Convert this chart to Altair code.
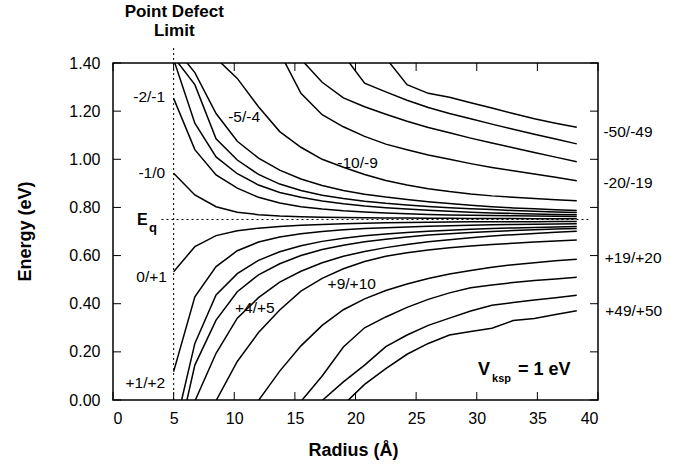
import altair as alt
import pandas as pd

# ---------------- data ----------------
radius = [5.0, 6.75, 8.5, 10.25, 12.0, 13.75, 15.5, 17.25, 19.0, 20.75,
          22.5, 24.25, 26.0, 27.75, 29.5, 31.25, 33.0, 34.75, 36.5, 38.25]

# upper family (negative charge transitions), energies in eV
m1_0 = [0.942, 0.852, 0.803, 0.780, 0.770, 0.764, 0.761, 0.759, 0.758, 0.757,
        0.756, 0.756, 0.755, 0.755, 0.754, 0.754, 0.754, 0.753, 0.753, 0.753]
m2_1 = [1.253, 1.040, 0.935, 0.880, 0.842, 0.818, 0.803, 0.793, 0.786, 0.781,
        0.777, 0.774, 0.771, 0.769, 0.767, 0.766, 0.765, 0.764, 0.763, 0.762]
m3_2 = [1.415, 1.150, 1.010, 0.940, 0.893, 0.862, 0.842, 0.827, 0.815, 0.806,
        0.799, 0.793, 0.788, 0.784, 0.780, 0.777, 0.775, 0.773, 0.771, 0.770]
m4_3 = [1.425, 1.310, 1.085, 0.997, 0.937, 0.897, 0.870, 0.851, 0.837, 0.826,
        0.817, 0.810, 0.804, 0.799, 0.795, 0.791, 0.787, 0.784, 0.781, 0.779]
m5_4 = [1.470, 1.360, 1.190, 1.075, 1.005, 0.955, 0.918, 0.891, 0.870, 0.855,
        0.843, 0.833, 0.824, 0.816, 0.809, 0.803, 0.798, 0.794, 0.790, 0.787]
m10_9 = [None, None, 1.420, 1.336, 1.218, 1.115, 1.050, 1.000, 0.967, 0.937,
         0.912, 0.893, 0.878, 0.866, 0.856, 0.848, 0.842, 0.837, 0.832, 0.828]
m20_19 = [None, None, None, None, None, 1.444, 1.274, 1.185, 1.135, 1.095,
          1.063, 1.040, 1.018, 1.000, 0.982, 0.966, 0.952, 0.939, 0.925, 0.911]
m30_29 = [None, None, None, None, None, None, 1.416, 1.320, 1.255, 1.218,
          1.187, 1.158, 1.132, 1.110, 1.088, 1.068, 1.048, 1.028, 1.009, 0.990]
m40_39 = [None, None, None, None, None, None, None, None, 1.434, 1.316,
          1.280, 1.245, 1.215, 1.190, 1.168, 1.146, 1.125, 1.104, 1.084, 1.064]
m50_49 = [None, None, None, None, None, None, None, None, None, None,
          1.421, 1.310, 1.274, 1.258, 1.235, 1.213, 1.190, 1.168, 1.150, 1.133]

# lower family (positive charge transitions)
p0_1 = [0.533, 0.637, 0.683, 0.703, 0.714, 0.721, 0.726, 0.729, 0.732, 0.734,
        0.736, 0.737, 0.738, 0.739, 0.740, 0.740, 0.741, 0.741, 0.742, 0.742]
p1_2 = [0.118, 0.429, 0.554, 0.620, 0.656, 0.677, 0.691, 0.700, 0.707, 0.712,
        0.716, 0.719, 0.722, 0.724, 0.726, 0.728, 0.729, 0.730, 0.731, 0.732]
p2_3 = [-0.142, 0.235, 0.436, 0.525, 0.580, 0.616, 0.641, 0.659, 0.672, 0.682,
        0.690, 0.696, 0.701, 0.705, 0.709, 0.712, 0.715, 0.717, 0.719, 0.721]
p3_4 = [-0.246, 0.145, 0.332, 0.450, 0.520, 0.566, 0.600, 0.625, 0.643, 0.657,
        0.668, 0.677, 0.685, 0.691, 0.696, 0.700, 0.704, 0.707, 0.710, 0.712]
p4_5 = [None, -0.005, 0.194, 0.340, 0.425, 0.490, 0.535, 0.570, 0.597, 0.617,
        0.633, 0.646, 0.657, 0.666, 0.674, 0.681, 0.687, 0.692, 0.697, 0.701]
p9_10 = [None, None, -0.003, 0.160, 0.280, 0.374, 0.452, 0.505, 0.545, 0.575,
         0.597, 0.612, 0.623, 0.632, 0.640, 0.646, 0.651, 0.656, 0.661, 0.665]
p19_20 = [None, None, None, None, -0.002, 0.120, 0.225, 0.310, 0.375, 0.420,
          0.455, 0.482, 0.505, 0.523, 0.538, 0.551, 0.562, 0.570, 0.578, 0.585]
p29_30 = [None, None, None, None, None, None, -0.006, 0.100, 0.220, 0.300,
          0.345, 0.385, 0.418, 0.445, 0.466, 0.478, 0.488, 0.496, 0.503, 0.510]
p39_40 = [None, None, None, None, None, None, None, -0.002, 0.075, 0.145,
          0.222, 0.270, 0.310, 0.340, 0.370, 0.394, 0.405, 0.415, 0.425, 0.435]
p49_50 = [None, None, None, None, None, None, None, None, -0.020, 0.065,
          0.130, 0.190, 0.235, 0.270, 0.285, 0.298, 0.330, 0.339, 0.355, 0.371]

curve_names = ["-1/0", "-2/-1", "-3/-2", "-4/-3", "-5/-4", "-10/-9", "-20/-19",
               "-30/-29", "-40/-39", "-50/-49", "0/+1", "+1/+2", "+2/+3",
               "+3/+4", "+4/+5", "+9/+10", "+19/+20", "+29/+30", "+39/+40",
               "+49/+50"]
curve_values = [m1_0, m2_1, m3_2, m4_3, m5_4, m10_9, m20_19, m30_29, m40_39,
                m50_49, p0_1, p1_2, p2_3, p3_4, p4_5, p9_10, p19_20, p29_30,
                p39_40, p49_50]

x_ticks = [0, 5, 10, 15, 20, 25, 30, 35, 40]
y_ticks = [0.0, 0.2, 0.4, 0.6, 0.8, 1.0, 1.2, 1.4]

eq_level = [0.75]
defect_limit = [5.0]

# ---------------- build tables ----------------
rows = []
for name, vals in zip(curve_names, curve_values):
    for r, e in zip(radius, vals):
        if e is not None:
            rows.append({"R": r, "E": e, "curve": name})
lines_df = pd.DataFrame(rows)

W, H = 485, 337
FONT = "Liberation Sans"
XT = "Radius (Å)"
YT = "Energy (eV)"
xs = alt.Scale(domain=[0, 40], nice=False, zero=False)
ys = alt.Scale(domain=[0, 1.4], nice=False, zero=False)

lines = alt.Chart(lines_df).mark_line(clip=True, color="black", strokeWidth=1.5).encode(
    x=alt.X("R:Q", scale=xs, title=XT,
            axis=alt.Axis(values=x_ticks, titleX=240, titleY=50,
                          titleBaseline="middle", titleAlign="center")),
    y=alt.Y("E:Q", scale=ys, title=YT,
            axis=alt.Axis(values=y_ticks, format=".2f", titleX=-88, titleY=168,
                          titleAngle=270, titleAlign="center",
                          titleBaseline="middle")),
    detail="curve:N",
    order="R:Q",
)

# dotted reference lines
eq_df = pd.DataFrame({"x0": [4.0], "x1": [39.2], "y": eq_level})
eq_rule = alt.Chart(eq_df).mark_rule(color="black", strokeWidth=1, strokeDash=[2, 3]).encode(
    x=alt.X("x0:Q", scale=xs, title=XT), x2="x1:Q",
    y=alt.Y("y:Q", scale=ys, title=YT))

lim_df = pd.DataFrame({"x": defect_limit, "y0": [0.0], "y1": [1.475]})
lim_rule = alt.Chart(lim_df).mark_rule(color="black", strokeWidth=1, strokeDash=[2, 3]).encode(
    x=alt.X("x:Q", scale=xs, title=XT),
    y=alt.Y("y0:Q", scale=ys, title=YT), y2="y1:Q")

# inward ticks on all four sides
xt_df = pd.DataFrame({"v": x_ticks})
yt_df = pd.DataFrame({"v": y_ticks})
TL = 8
tick_bottom = alt.Chart(xt_df).mark_rule(color="black", strokeWidth=1).encode(
    x=alt.X("v:Q", scale=xs, title=XT), y=alt.value(H), y2=alt.value(H - TL))
tick_top = alt.Chart(xt_df).mark_rule(color="black", strokeWidth=1).encode(
    x=alt.X("v:Q", scale=xs, title=XT), y=alt.value(0), y2=alt.value(TL))
tick_left = alt.Chart(yt_df).mark_rule(color="black", strokeWidth=1).encode(
    y=alt.Y("v:Q", scale=ys, title=YT), x=alt.value(0), x2=alt.value(TL))
tick_right = alt.Chart(yt_df).mark_rule(color="black", strokeWidth=1).encode(
    y=alt.Y("v:Q", scale=ys, title=YT), x=alt.value(W), x2=alt.value(W - TL))

# curve labels (annotation placement)
labels = [
    {"t": "-2/-1", "x": 4.3, "y": 1.258, "a": "right"},
    {"t": "-1/0", "x": 4.3, "y": 0.943, "a": "right"},
    {"t": "0/+1", "x": 4.45, "y": 0.509, "a": "right"},
    {"t": "+1/+2", "x": 4.3, "y": 0.071, "a": "right"},
    {"t": "-5/-4", "x": 9.5, "y": 1.176, "a": "left"},
    {"t": "-10/-9", "x": 18.5, "y": 0.985, "a": "left"},
    {"t": "+4/+5", "x": 10.06, "y": 0.384, "a": "left"},
    {"t": "+9/+10", "x": 17.7, "y": 0.482, "a": "left"},
    {"t": "-50/-49", "x": 40.45, "y": 1.115, "a": "left"},
    {"t": "-20/-19", "x": 40.45, "y": 0.900, "a": "left"},
    {"t": "+19/+20", "x": 40.55, "y": 0.590, "a": "left"},
    {"t": "+49/+50", "x": 40.6, "y": 0.370, "a": "left"},
]
lab_layers = []
for al in ["left", "right"]:
    sub = pd.DataFrame([d for d in labels if d["a"] == al])
    lab_layers.append(
        alt.Chart(sub).mark_text(font=FONT, fontSize=15.5, color="black", align=al,
                                 baseline="middle").encode(
            x=alt.X("x:Q", scale=xs, title=XT), y=alt.Y("y:Q", scale=ys, title=YT),
            text="t:N"))

# other annotations: (text, x, y, size, align)
annots = [
    ("E", 1.98, 0.727, 16, "left"),
    ("q", 2.97, 0.698, 13, "left"),
    ("V", 30.1, 0.104, 18, "left"),
    ("ksp", 31.26, 0.073, 11, "left"),
    ("= 1 eV", 33.4, 0.104, 18, "left"),
    ("Point Defect", 5.05, 1.592, 17, "center"),
    ("Limit", 5.05, 1.512, 17, "center"),
]
ann_layers = []
for t, x, y, s, al in annots:
    d = pd.DataFrame({"t": [t], "x": [x], "y": [y]})
    ann_layers.append(
        alt.Chart(d).mark_text(font=FONT, fontSize=s, fontWeight="bold", color="black",
                               align=al, baseline="alphabetic").encode(
            x=alt.X("x:Q", scale=xs, title=XT), y=alt.Y("y:Q", scale=ys, title=YT),
            text="t:N"))

chart = alt.layer(
    lines, eq_rule, lim_rule, tick_bottom, tick_top, tick_left, tick_right,
    *lab_layers, *ann_layers
).properties(
    width=W, height=H,
    padding={"left": 113, "top": 63, "right": 90, "bottom": 64},
    autosize=alt.AutoSizeParams(type="none"),
    background="white",
).configure_view(
    stroke="black", strokeWidth=1.5
).configure_axis(
    grid=False, domain=False, ticks=False,
    labelFont=FONT, labelFontSize=16, labelColor="black",
    titleFont=FONT, titleFontSize=18, titleFontWeight="bold", titleColor="black",
).configure_axisX(
    labelPadding=10, values=x_ticks
).configure_axisY(
    labelPadding=13, values=y_ticks, format=".2f"
)

chart.save("out.html", embed_options={"renderer": "svg", "actions": False})
